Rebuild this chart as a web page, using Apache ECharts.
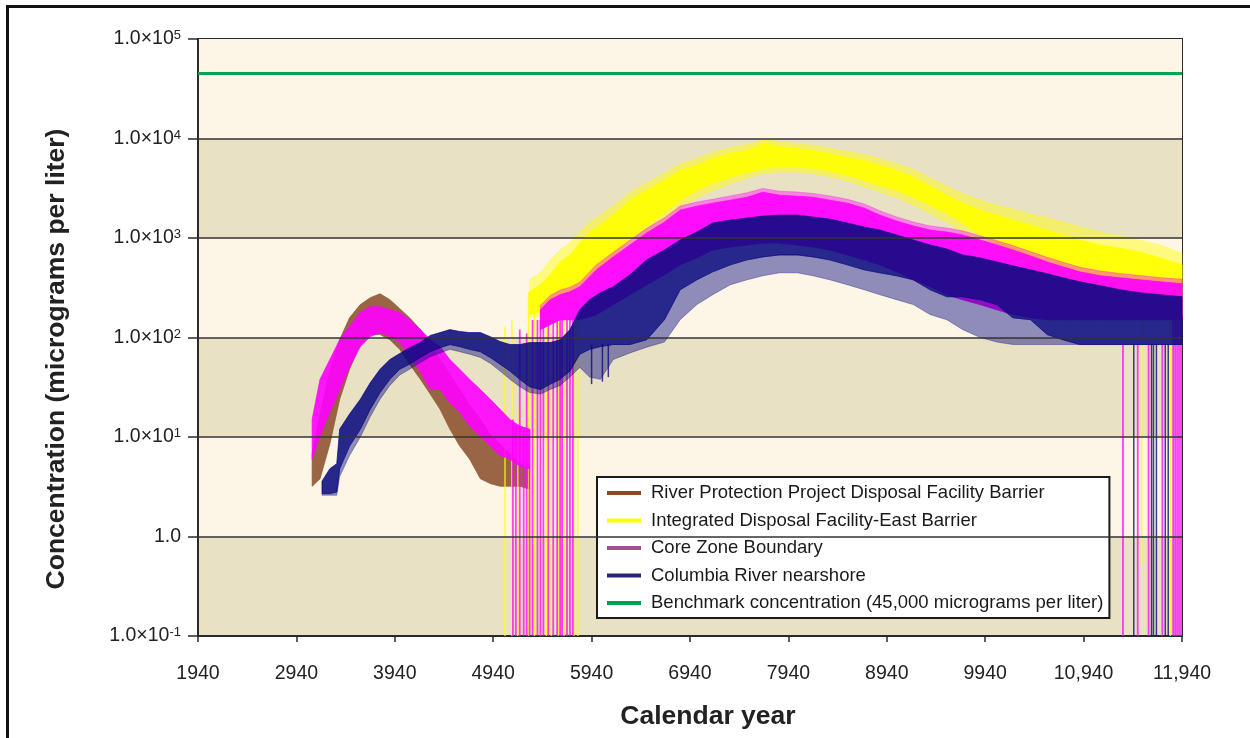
<!DOCTYPE html>
<html>
<head>
<meta charset="utf-8">
<script src="https://cdn.jsdelivr.net/npm/echarts@6/dist/echarts.min.js"></script>
<style>
html,body{margin:0;padding:0;background:#fff;}
#chart{width:1250px;height:738px;}
</style>
</head>
<body>
<div id="chart"></div>
<script>
// ---------- DATA ----------
const X0 = 1940;                       // first calendar year on the axis
const xTickYears = [1940,2940,3940,4940,5940,6940,7940,8940,9940,10940,11940];
const yTickValues = [0.1,1,10,100,1000,10000,100000];
const benchmark = 45000;

// River Protection Project Disposal Facility Barrier (band: low / high envelope)
const rppYears = [3100,3180,3280,3380,3480,3590,3690,3790,3890,3990,4090,4200,4300,4400,4500,4600,4700,4810,4910,5010,5110,5210,5310];
const rppHigh  = [6.8,17,46,95,158,214,251,275,240,195,158,120,85,60,43,30,21,15,10.7,8.5,6.8,5.4,4.8];
const rppLow   = [3.2,3.8,8.5,24,48,85,107,107,95,76,54,38,27,19,12,8.1,6.0,3.8,3.4,3.2,3.2,3.2,3.0];

// Integrated Disposal Facility-East Barrier (dense band + outer spike fringe)
const idfYears = [5310,5420,5520,5620,5720,5820,5920,6030,6160,6330,6500,6680,6840,7010,7170,7350,7520,7700,7850,8030,8190,8360,8540,8710,8870,9040,9210,9380,9550,9710,9890,10060,10220,10400,10570,10730,10900,11110,11310,11510,11720,11940];
const idfHigh  = [288,339,427,575,676,891,1148,1349,1698,2399,3020,3802,4786,5370,6310,7079,7586,8913,8318,7943,7586,7079,6457,6026,5370,4786,4074,3311,2692,2239,1905,1698,1514,1349,1202,1072,955,851,794,724,631,537];
const idfLow   = [170,182,240,257,269,339,427,501,646,955,1288,1778,2399,3020,3548,4074,4571,5012,5129,5129,5012,4677,4266,3802,3388,3020,2570,2138,1778,1413,1072,851,646,537,447,380,324,302,269,240,214,170];
const idfOuterHigh = [380,450,600,760,900,1150,1450,1700,2100,2900,3600,4500,5600,6300,7300,8100,8700,9800,9300,8900,8500,8000,7400,6900,6300,5600,4900,4000,3300,2800,2400,2150,1950,1750,1600,1450,1300,1150,1050,950,850,700];
const idfOuterLow  = [160,165,190,200,210,260,330,400,520,780,1050,1450,2000,2550,3000,3500,4000,4500,4600,4600,4450,4150,3750,3300,2900,2550,2150,1750,1450,1150,880,700,540,450,370,320,280,260,240,215,190,160];
const idfSpikeYears  = [5060,5130,5190,5300,5360,5420,5480,5530,5600,5660,5760,5800,11530,11820];
const idfSpikeTop    = [130,150,20,288,300,339,330,240,257,260,269,339,240,214];
const idfSpikeBottom = [0.1,0.1,0.1,0.1,0.1,0.1,0.1,0.1,0.1,0.1,0.1,0.1,0.55,0.1];

// Core Zone Boundary (early hump + main hump)
const coreEarlyYears = [3100,3180,3280,3380,3480,3590,3690,3790,3890,3990,4090,4200,4300,4400,4500,4600,4700,4810,4910,5010,5110,5210,5310];
const coreEarlyHigh  = [15,38,60,95,129,178,204,204,190,178,151,120,95,81,60,48,38,30,24,19,15,12.9,12];
const coreEarlyLow   = [6.0,10.2,17.8,30,51,81,102,112,102,89,65,45,30,30,22,17.8,12.9,10.2,8.1,6.5,6.0,5.1,4.8];
const coreYears = [5420,5520,5620,5720,5820,5990,6160,6330,6500,6680,6840,7010,7170,7350,7520,7680,7850,8030,8190,8360,8540,8710,8870,9040,9210,9380,9550,9710,9890,10060,10220,10400,10570,10730,10900,11110,11310,11510,11720,11940];
const coreHigh  = [190,240,269,288,324,479,646,851,1122,1445,1905,2089,2239,2399,2570,2884,2692,2630,2570,2399,2239,1995,1698,1479,1318,1202,1148,1072,955,851,759,661,575,513,457,417,398,380,363,347];
const coreLow   = [120,135,151,151,151,170,214,269,339,427,537,631,759,813,851,891,891,851,813,759,676,603,537,457,380,324,269,240,214,190,170,158,151,151,151,151,151,151,151,151];
const coreOuterHigh = [210,265,300,320,360,540,720,950,1250,1600,2100,2300,2450,2650,2850,3150,2950,2900,2800,2650,2450,2200,1880,1630,1450,1320,1260,1180,1050,940,840,730,640,570,510,465,440,420,400,385];
const coreSpikeYears  = [5140,5170,5210,5250,5280,5310,5340,5390,5420,5450,5500,5550,5590,5620,5640,5690,5720,5750,11340,11490,11600,11740,11850,11870,11890,11910,11930];
const coreSpikeTop    = [15,13,120,12,110,12,150,150,150,150,150,150,150,150,150,150,150,150,85,85,85,85,151,151,151,151,151];
const coreSpikeBottom = [0.1,0.1,0.1,0.1,0.1,0.1,0.1,0.1,0.1,0.1,0.1,0.1,0.1,0.1,0.1,0.1,0.1,0.1,0.1,0.1,0.1,0.1,0.1,0.1,0.1,0.1,0.1];

// Columbia River nearshore (dense band + lower spike fringe)
const crnYears = [3200,3280,3350,3380,3480,3590,3690,3790,3890,3990,4090,4200,4300,4400,4500,4600,4700,4810,4910,5010,5110,5210,5310,5420,5520,5620,5720,5820,5920,6030,6160,6330,6500,6680,6840,7010,7170,7350,7520,7680,7850,8030,8190,8360,8540,8710,8870,9040,9210,9380,9550,9710,9890,10060,10220,10400,10570,10730,10900,11110,11310,11510,11720,11940];
const crnHigh  = [3.6,4.8,5.4,12,17,24,35,48,60,69,79,89,105,112,120,115,112,112,102,91,85,85,89,89,89,95,120,190,240,282,324,427,603,759,955,1148,1413,1514,1585,1660,1698,1698,1622,1549,1413,1288,1202,1072,955,851,776,676,631,575,525,479,437,398,363,331,302,282,269,257];
const crnLow   = [2.7,2.7,2.8,4.8,8.1,12,19,28,38,48,54,63,72,79,85,81,76,72,63,54,46,38,32,30,34,38,46,68,76,81,85,85,95,151,302,380,457,537,603,646,676,676,646,603,537,479,447,417,380,302,257,257,240,214,158,151,107,95,85,85,85,85,85,85];
const crnOuterLow = [2.6,2.6,2.6,4.0,6.5,10,16,24,33,42,48,56,64,70,76,72,68,63,55,46,38,32,28,27,30,33,40,50,40,38,60,70,80,90,151,214,269,339,380,417,447,447,417,380,339,302,269,240,214,170,151,120,100,90,85,85,85,85,85,85,85,85,85,85];
const crnSpikeYears  = [5940,6050,6110,11450,11630,11650,11680,11770,11800];
const crnSpikeTop    = [85,85,85,85,85,85,85,85,85];
const crnSpikeBottom = [34,36,40,0.1,0.1,0.1,0.1,0.1,0.1];

const names = [
  'River Protection Project Disposal Facility Barrier',
  'Integrated Disposal Facility-East Barrier',
  'Core Zone Boundary',
  'Columbia River nearshore',
  'Benchmark concentration (45,000 micrograms per liter)'
];
const legendColors = ['#8B4A2B','#FFFF00','#A0508C','#24247A','#00A050'];
const plotColors   = ['#8E5532','#FFFF00','#FF00FF','#0A0A80','#00A651'];

// ---------- BUILD ----------
const FONT = '"Liberation Sans", Arial, sans-serif';

function bandSeries(name, segments, color, opacity, z) {
  return {
    type: 'custom', name: name, coordinateSystem: 'cartesian2d', silent: true, z: z,
    itemStyle: {color: color},
    data: segments.map((s, i) => [s.years[0] - X0, s.low[0], i]),
    renderItem: function (params, api) {
      const s = segments[api.value(2)];
      const top = [], bot = [];
      for (let i = 0; i < s.years.length; i++) {
        top.push(api.coord([s.years[i] - X0, s.high[i]]));
        bot.push(api.coord([s.years[i] - X0, s.low[i]]));
      }
      return {
        type: 'polygon',
        shape: {points: top.concat(bot.reverse())},
        style: {fill: color, stroke: color, lineWidth: 0.8, opacity: opacity}
      };
    }
  };
}

function spikeSeries(name, years, tops, bottoms, color, width, opacity, z) {
  return {
    type: 'custom', name: name, coordinateSystem: 'cartesian2d', silent: true, z: z,
    itemStyle: {color: color},
    data: years.map((y, i) => [y - X0, tops[i], bottoms[i]]),
    renderItem: function (params, api) {
      const a = api.coord([api.value(0), api.value(1)]);
      const b = api.coord([api.value(0), api.value(2)]);
      return {
        type: 'line',
        shape: {x1: a[0], y1: a[1], x2: b[0], y2: b[1]},
        style: {stroke: color, lineWidth: width, opacity: opacity}
      };
    }
  };
}

function fmtYear(v) {
  const y = v + X0;
  const s = String(y);
  return y >= 10000 ? s.slice(0, s.length - 3) + ',' + s.slice(-3) : s;
}
function fmtPow(v) {
  const e = Math.round(Math.log10(v));
  if (e === 0) return '1.0';
  return '1.0×10{sup|' + (e < 0 ? '-' : '') + Math.abs(e) + '}';
}

const chart = echarts.init(document.getElementById('chart'), null, {renderer: 'canvas'});

const option = {
  backgroundColor: '#ffffff',
  animation: false,
  textStyle: {fontFamily: FONT},
  grid: {left: 198, right: 68, top: 39, bottom: 102, show: true, borderColor: '#2a2a2a', borderWidth: 2, backgroundColor: 'transparent'},
  xAxis: {
    type: 'value', min: xTickYears[0] - X0, max: xTickYears[xTickYears.length - 1] - X0, interval: 1000,
    axisLine: {show: true, lineStyle: {color: '#2a2a2a', width: 2}},
    axisTick: {show: true, length: 6, lineStyle: {color: '#2a2a2a', width: 1.5}},
    axisLabel: {formatter: fmtYear, fontSize: 19.5, color: '#222', fontFamily: FONT, margin: 28},
    splitLine: {show: false}
  },
  yAxis: {
    type: 'log', logBase: 10, min: yTickValues[0], max: yTickValues[yTickValues.length - 1], splitNumber: 6,
    axisLine: {show: true, lineStyle: {color: '#2a2a2a', width: 2}},
    axisTick: {show: true, length: 10, lineStyle: {color: '#2a2a2a', width: 1.5}},
    axisLabel: {
      formatter: fmtPow, fontSize: 19.5, color: '#222', fontFamily: FONT, margin: 17,
      rich: {sup: {fontSize: 13, verticalAlign: 'top', lineHeight: 12, color: '#222', fontFamily: FONT}}
    },
    splitLine: {show: false},
    splitArea: {show: true, areaStyle: {color: ['#E9E1C4', '#FDF6E7']}}
  },
  legend: {
    show: true, orient: 'vertical', left: 597, top: 477,
    padding: [6, 6, 5, 10], itemGap: 7.5, itemWidth: 34, itemHeight: 4, icon: 'rect',
    backgroundColor: '#ffffff', borderColor: '#1a1a1a', borderWidth: 2, borderRadius: 0,
    selectedMode: false,
    textStyle: {fontSize: 18.5, color: '#1a1a1a', fontFamily: FONT, lineHeight: 20, padding: [0, 0, 0, 5]},
    data: names.map((n, i) => ({name: n, icon: 'rect', itemStyle: {color: legendColors[i], borderWidth: 0}}))
  },
  graphic: [
    {type: 'rect', silent: true, z: 100, shape: {x: 7.5, y: 6.5, width: 1400, height: 900}, style: {fill: null, stroke: '#111', lineWidth: 3}},
    {type: 'text', silent: true, z: 100, x: 708, y: 717, style: {text: 'Calendar year', font: 'bold 26.5px ' + FONT, fill: '#222', textAlign: 'center', textVerticalAlign: 'middle'}},
    {type: 'text', silent: true, z: 100, x: 57, y: 359, rotation: Math.PI / 2, style: {text: 'Concentration (micrograms per liter)', font: 'bold 26.5px ' + FONT, fill: '#222', textAlign: 'center', textVerticalAlign: 'middle'}}
  ],
  series: [
    bandSeries(names[0], [{years: rppYears, low: rppLow, high: rppHigh}], plotColors[0], 0.9, 2),
    spikeSeries('idf-spikes', idfSpikeYears, idfSpikeTop, idfSpikeBottom, plotColors[1], 1.5, 0.8, 2),
    bandSeries('idf-fringe', [{years: idfYears, low: idfOuterLow, high: idfOuterHigh}], plotColors[1], 0.45, 2),
    bandSeries(names[1], [{years: idfYears, low: idfLow, high: idfHigh}], plotColors[1], 0.92, 2),
    spikeSeries('core-spikes', coreSpikeYears, coreSpikeTop, coreSpikeBottom, plotColors[2], 1.8, 0.75, 2),
    bandSeries('core-fringe', [{years: coreYears, low: coreLow, high: coreOuterHigh}], plotColors[2], 0.4, 2),
    bandSeries(names[2], [{years: coreEarlyYears, low: coreEarlyLow, high: coreEarlyHigh}, {years: coreYears, low: coreLow, high: coreHigh}], plotColors[2], 0.9, 2),
    spikeSeries('crn-spikes', crnSpikeYears, crnSpikeTop, crnSpikeBottom, plotColors[3], 1.5, 0.8, 2),
    bandSeries('crn-fringe', [{years: crnYears, low: crnOuterLow, high: crnLow}], plotColors[3], 0.45, 2),
    bandSeries(names[3], [{years: crnYears, low: crnLow, high: crnHigh}], plotColors[3], 0.88, 2),
    {
      type: 'line', name: names[4], z: 3, symbol: 'none', silent: true,
      data: [[xTickYears[0] - X0, benchmark], [xTickYears[xTickYears.length - 1] - X0, benchmark]],
      itemStyle: {color: plotColors[4]},
      lineStyle: {color: plotColors[4], width: 3},
      markLine: {
        silent: true, symbol: ['none', 'none'], label: {show: false}, z: 5,
        lineStyle: {color: '#333', width: 1.5, type: 'solid'},
        data: yTickValues.slice(1, yTickValues.length - 1).map(v => ({yAxis: v}))
      }
    }
  ]
};
chart.setOption(option);
</script>
</body>
</html>
